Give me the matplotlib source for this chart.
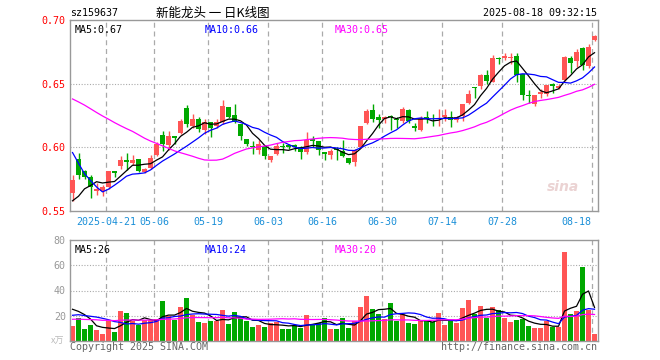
import numpy as np
import pandas as pd
import matplotlib
matplotlib.use("Agg")
import matplotlib.pyplot as plt

# daily candles, 2025-04-11 .. 2025-08-18 (88 trading days)
opens = [0.564, 0.591, 0.5816, 0.577, 0.5655, 0.566, 0.5692, 0.5813, 0.585, 0.5903,
         0.5877, 0.591, 0.581, 0.584, 0.5942, 0.610, 0.602, 0.6092, 0.611, 0.6305,
         0.617, 0.6226, 0.614, 0.6197, 0.6165, 0.620, 0.6318, 0.625, 0.6187, 0.6068,
         0.6013, 0.5976, 0.6008, 0.590, 0.595, 0.6013, 0.602, 0.6015, 0.600, 0.596,
         0.6066, 0.6053, 0.596, 0.5942, 0.599, 0.5974, 0.592, 0.5882, 0.600, 0.6192,
         0.6297, 0.624, 0.622, 0.6245, 0.6226, 0.6205, 0.6297, 0.6171, 0.614, 0.6235,
         0.6226, 0.622, 0.6237, 0.624, 0.6218, 0.625, 0.6345, 0.6473, 0.6481, 0.6566,
         0.6513, 0.670, 0.670, 0.670, 0.6718, 0.6574, 0.641, 0.6337, 0.6421, 0.6416,
         0.6495, 0.6463, 0.6526, 0.6705, 0.668, 0.678, 0.664, 0.6842]
closes = [0.574, 0.578, 0.577, 0.569, 0.567, 0.569, 0.5813, 0.5795, 0.590, 0.5885,
          0.5903, 0.5816, 0.5832, 0.592, 0.6027, 0.603, 0.609, 0.6074, 0.621, 0.6187,
          0.6226, 0.6145, 0.6197, 0.6153, 0.6197, 0.6323, 0.6237, 0.6197, 0.6087, 0.603,
          0.600, 0.6029, 0.5934, 0.5934, 0.6013, 0.600, 0.600, 0.600, 0.5963, 0.606,
          0.6053, 0.5976, 0.595, 0.5974, 0.5976, 0.5934, 0.588, 0.5982, 0.6171, 0.6284,
          0.6224, 0.6213, 0.624, 0.6235, 0.6213, 0.6303, 0.6205, 0.6155, 0.6232, 0.6226,
          0.622, 0.6232, 0.625, 0.6218, 0.6237, 0.6337, 0.6421, 0.6466, 0.6566, 0.6521,
          0.670, 0.6695, 0.6718, 0.671, 0.6568, 0.641, 0.640, 0.641, 0.6437, 0.6487,
          0.6481, 0.6481, 0.671, 0.666, 0.6745, 0.6645, 0.679, 0.6876]
highs = [0.578, 0.5955, 0.582, 0.578, 0.572, 0.5705, 0.5813, 0.5813, 0.5934, 0.5956,
         0.594, 0.591, 0.5835, 0.5937, 0.604, 0.6126, 0.6126, 0.6092, 0.622, 0.633,
         0.6258, 0.624, 0.622, 0.620, 0.622, 0.637, 0.632, 0.6337, 0.6187, 0.6068,
         0.6053, 0.6055, 0.6021, 0.5934, 0.6035, 0.6035, 0.603, 0.603, 0.6013, 0.6118,
         0.6087, 0.6053, 0.596, 0.599, 0.600, 0.6055, 0.592, 0.599, 0.6171, 0.630,
         0.634, 0.6258, 0.6245, 0.6255, 0.624, 0.632, 0.630, 0.6192, 0.6245, 0.6284,
         0.626, 0.630, 0.6303, 0.6284, 0.625, 0.634, 0.6447, 0.6475, 0.6574, 0.6605,
         0.6724, 0.6713, 0.6737, 0.6737, 0.6737, 0.6574, 0.6447, 0.641, 0.6455, 0.649,
         0.6508, 0.650, 0.672, 0.672, 0.677, 0.679, 0.681, 0.688]
lows = [0.558, 0.575, 0.575, 0.5605, 0.5625, 0.562, 0.567, 0.5765, 0.5832, 0.5824,
        0.5858, 0.581, 0.580, 0.5832, 0.593, 0.597, 0.598, 0.6029, 0.6105, 0.616,
        0.6153, 0.612, 0.6105, 0.608, 0.615, 0.6187, 0.623, 0.619, 0.6055, 0.601,
        0.595, 0.595, 0.591, 0.5884, 0.594, 0.5955, 0.5985, 0.597, 0.591, 0.595,
        0.600, 0.5942, 0.590, 0.591, 0.590, 0.5924, 0.5867, 0.5855, 0.5995, 0.618,
        0.620, 0.6155, 0.619, 0.614, 0.6153, 0.619, 0.619, 0.6126, 0.6126, 0.6192,
        0.6165, 0.6166, 0.621, 0.616, 0.620, 0.621, 0.6337, 0.639, 0.6455, 0.6495,
        0.651, 0.6653, 0.6684, 0.6658, 0.6516, 0.6368, 0.635, 0.6323, 0.639, 0.640,
        0.643, 0.6455, 0.652, 0.6587, 0.663, 0.6605, 0.662, 0.6837]
volumes = [11.7, 18.5, 9.3, 12.4, 8.5, 5.3, 15.9, 7.1, 23.6, 22.2,
           15.9, 13.0, 16.9, 16.9, 17.7, 31.5, 19.6, 16.9, 27.0, 33.9,
           20.4, 15.1, 14.3, 15.6, 15.9, 24.4, 13.5, 22.8, 19.1, 15.9,
           11.1, 12.4, 11.1, 14.6, 15.1, 9.5, 9.5, 12.4, 10.6, 20.4,
           13.0, 14.6, 18.5, 9.5, 9.3, 18.5, 10.3, 15.6, 26.7, 35.5,
           25.2, 21.2, 17.2, 29.9, 15.9, 21.2, 14.0, 13.2, 16.2, 15.9,
           15.4, 22.0, 12.4, 16.9, 14.0, 26.0, 32.3, 21.2, 27.5, 18.3,
           26.7, 24.4, 18.0, 14.8, 16.7, 17.5, 11.7, 10.1, 10.1, 15.9,
           10.9, 11.4, 70.4, 21.2, 23.6, 58.5, 24.4, 5.3]

# the 29 sessions before the window, only used for the moving averages
prior_closes = [0.648, 0.652, 0.655, 0.654, 0.652, 0.657, 0.660, 0.663, 0.658, 0.655,
                0.661, 0.664, 0.659, 0.658, 0.662, 0.666, 0.668, 0.664, 0.660, 0.665,
                0.662, 0.659, 0.622, 0.618, 0.608, 0.560, 0.548, 0.556, 0.552]
prior_volumes = [14, 17, 16, 13, 18, 15, 16, 14, 17, 15, 16, 18, 14, 15, 17, 16, 13, 15, 16, 17,
                 14, 16, 18, 15, 15, 27, 22, 30, 35]

tick_idx = [6, 14, 23, 33, 42, 52, 62, 72, 87]
tick_labels = ["2025-04-21", "05-06", "05-19", "06-03", "06-16", "06-30", "07-14", "07-28", "08-18"]

price_legend = ["MA5:0.67", "MA10:0.66", "MA30:0.65"]
vol_legend = ["MA5:26", "MA10:24", "MA30:20"]

RED = "#ff5555"
GREEN = "#00a800"
MA_COLORS = ["black", "#0000ff", "#ff00ff"]
GRID = "#aaaaaa"

n = len(closes)
x = np.arange(n)
opens, closes, highs, lows = map(np.array, (opens, closes, highs, lows))
up = closes >= opens
colors = np.where(up, RED, GREEN)

all_close = pd.Series(prior_closes + list(closes))
all_vol = pd.Series(prior_volumes + volumes)
ma_price = [all_close.rolling(w).mean().values[-n:] for w in (5, 10, 30)]
ma_vol = [all_vol.rolling(w).mean().values[-n:] for w in (5, 10, 30)]

fig = plt.figure(figsize=(6.6, 3.6), dpi=100)
ax = fig.add_axes([70 / 660, 1 - 211 / 360, 528 / 660, 191 / 360])
axv = fig.add_axes([70 / 660, 1 - 341 / 360, 528 / 660, 101 / 360])

mono = "DejaVu Sans Mono"
xlo, xhi = -0.42, n - 0.42

for a in (ax, axv):
    a.set_xlim(xlo, xhi)
    for s in a.spines.values():
        s.set_color("#999999")
        s.set_linewidth(1)
    for t in tick_idx:
        a.axvline(t - 0.42, color=GRID, lw=0.9, ls=(0, (4, 3)), zorder=0)
    a.set_xticks([])
    a.tick_params(length=0)

# ---- price panel
ax.set_ylim(0.55, 0.70)
for lvl in (0.60, 0.65):
    ax.axhline(lvl, color=GRID, lw=0.8, ls=(0, (1, 1.5)), zorder=0)
ax.set_yticks([0.55, 0.60, 0.65, 0.70])
ax.set_yticklabels(["0.55", "0.60", "0.65", "0.70"], color="red", fontsize=7.2, family=mono)
ax.tick_params(axis="y", pad=3)

ax.vlines(x, lows, highs, color=colors, lw=1, zorder=2)
body_lo = np.minimum(opens, closes)
body_h = np.maximum(np.abs(closes - opens), 0.0004)
ax.bar(x, body_h, bottom=body_lo, width=0.8, color=colors, zorder=3, linewidth=0)

for ma, c in zip(ma_price, MA_COLORS):
    ax.plot(x, ma, color=c, lw=0.9, zorder=4)

for i, (txt, c) in enumerate(zip(price_legend, MA_COLORS)):
    ax.text(5 / 528 + i * 130 / 528, 0.975, txt, transform=ax.transAxes, color=c,
            fontsize=7.2, family=mono, va="top", ha="left")

ax.text(0.965, 0.09, "sina", transform=ax.transAxes, color="#e6c8c8", fontsize=10,
        style="italic", weight="bold", ha="right", va="bottom", alpha=0.8)

for t, lab in zip(tick_idx, tick_labels):
    ha = "right" if t == tick_idx[-1] else "center"
    xx = t - 0.42 if t != tick_idx[-1] else t - 0.6
    ax.text(xx, -0.055, lab, transform=ax.get_xaxis_transform(), color="#1a8fd8",
            fontsize=7.2, family=mono, ha=ha, va="center")

# ---- volume panel
axv.set_ylim(0, 80)
for lvl in (20, 40, 60):
    axv.axhline(lvl, color=GRID, lw=0.8, ls=(0, (1, 1.5)), zorder=0)
axv.set_yticks([20, 40, 60, 80])
axv.set_yticklabels(["20", "40", "60", "80"], color="#999999", fontsize=7.2, family=mono)
axv.tick_params(axis="y", pad=3)
axv.bar(x, volumes, width=0.8, color=colors, linewidth=0, zorder=2)
for ma, c in zip(ma_vol, MA_COLORS):
    axv.plot(x, ma, color=c, lw=0.9, zorder=4)
for i, (txt, c) in enumerate(zip(vol_legend, MA_COLORS)):
    axv.text(5 / 528 + i * 130 / 528, 0.95, txt, transform=axv.transAxes, color=c,
             fontsize=7.2, family=mono, va="top", ha="left")

# ---- header / footer
fig.text(70 / 660, 1 - 13 / 360, "sz159637", fontsize=7.2, family=mono, va="center", ha="left")
fig.text(213 / 660, 1 - 13 / 360, "新能龙头 一 日K线图", fontsize=9,
         family=["Noto Sans CJK SC", "DejaVu Sans"], va="center", ha="center")
fig.text(597 / 660, 1 - 13 / 360, "2025-08-18 09:32:15", fontsize=7.2, family=mono,
         va="center", ha="right")
fig.text(64 / 660, 1 - 341 / 360, "x万", fontsize=6.5, color="#bbbbbb",
         family=["Noto Sans CJK SC", "DejaVu Sans"], va="center", ha="right")
fig.text(70 / 660, 1 - 347 / 360, "Copyright 2025 SINA.COM", fontsize=7.2, family=mono,
         color="#666666", va="center", ha="left")
fig.text(597 / 660, 1 - 347 / 360, "http://finance.sina.com.cn", fontsize=7.2, family=mono,
         color="#666666", va="center", ha="right")

fig.savefig("out.png", dpi=100, facecolor="white")
